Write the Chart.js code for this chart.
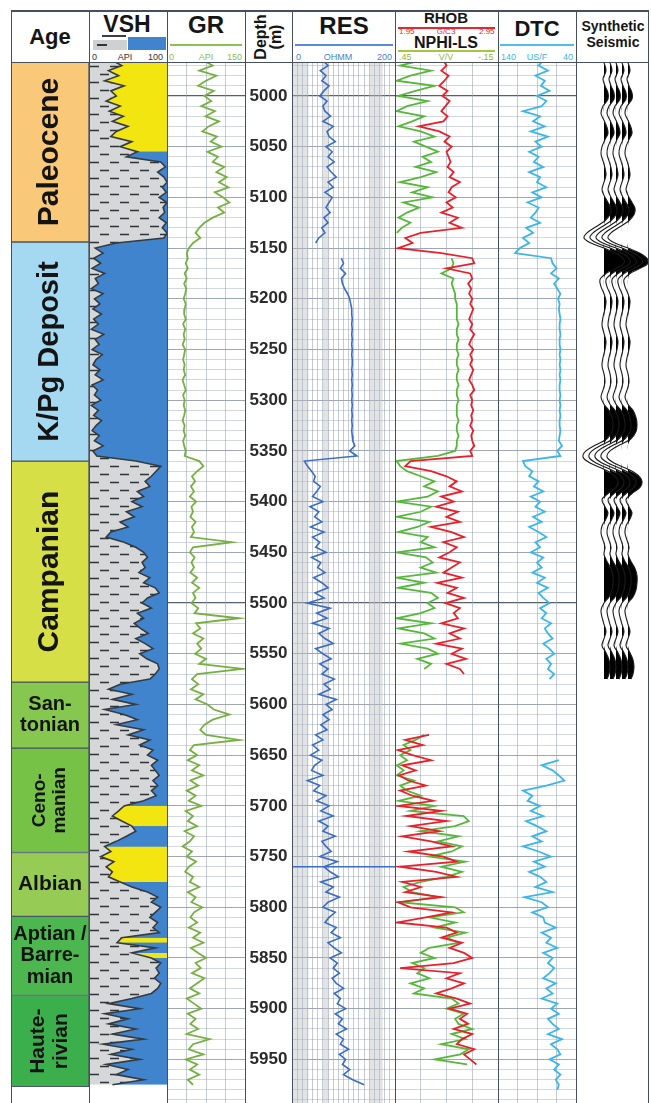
<!DOCTYPE html>
<html>
<head>
<meta charset="utf-8">
<script src="https://cdn.jsdelivr.net/npm/chart.js@4.4.0/dist/chart.umd.min.js"></script>
<style>
  body { margin: 0; width: 651px; height: 1103px; overflow: hidden; position: relative; background: #fff;
         font-family: 'Liberation Sans', Arial, sans-serif; color: #151515; }
  canvas { position: absolute; }
  .t { position: absolute; white-space: nowrap; transform: translateX(-50%); line-height: 1; }
  .b { font-weight: bold; }
  .s { position: absolute; font-size: 9px; line-height: 1; white-space: nowrap; }
  .v { position: absolute; background: #46505c; width: 1.5px; top: 10px; height: 1093px; z-index: 5; }
  .h { position: absolute; background: #46505c; height: 1.5px; left: 11px; width: 638px; z-index: 5; }
  .r { position: absolute; }
</style>
</head>
<body>

<!-- header -->
<div class="t b" style="left:50px;top:26px;font-size:22px">Age</div>

<div class="t b" style="left:127px;top:13px;font-size:23px">VSH</div>
<div class="r" style="left:102px;top:35px;width:24px;height:2px;background:#3a3f44"></div>
<div class="r" style="left:93px;top:40px;width:34px;height:10px;background:#cfd0d2"></div>
<div class="r" style="left:97px;top:44px;width:10px;height:1.5px;background:#333"></div>
<div class="r" style="left:128px;top:37px;width:38px;height:13px;background:#3f84cc"></div>
<div class="s" style="left:92px;top:53px;color:#333">0</div>
<div class="s" style="left:125px;top:53px;color:#333;transform:translateX(-50%)">API</div>
<div class="s" style="left:148px;top:53px;color:#333">100</div>

<div class="t b" style="left:206px;top:13px;font-size:24px">GR</div>
<div class="r" style="left:170px;top:44px;width:72px;height:1.5px;background:#8cc152"></div>
<div class="s" style="left:169px;top:53px;color:#8cc152">0</div>
<div class="s" style="left:206px;top:53px;color:#8cc152;transform:translateX(-50%)">API</div>
<div class="s" style="left:227px;top:53px;color:#8cc152">150</div>

<div class="r b" style="left:268px;top:37px;font-size:16px;line-height:15px;text-align:center;white-space:pre;transform:translate(-50%,-50%) rotate(-90deg)">Depth
(m)</div>

<div class="t b" style="left:344px;top:14px;font-size:24px">RES</div>
<div class="r" style="left:295px;top:44px;width:98px;height:1.5px;background:#5b8bd6"></div>
<div class="s" style="left:296px;top:53px;color:#4a7fd0">0</div>
<div class="s" style="left:338px;top:53px;color:#4a7fd0;transform:translateX(-50%)">OHMM</div>
<div class="s" style="left:377px;top:53px;color:#4a7fd0">200</div>

<div class="t b" style="left:446px;top:10px;font-size:15px">RHOB</div>
<div class="r" style="left:398px;top:27px;width:97px;height:1.5px;background:#e8262c"></div>
<div class="s" style="left:399px;top:28px;color:#e8262c;font-size:8px">1.95</div>
<div class="s" style="left:446px;top:28px;color:#e8262c;font-size:8px;transform:translateX(-50%)">G/C3</div>
<div class="s" style="left:479px;top:28px;color:#e8262c;font-size:8px">2.95</div>
<div class="t b" style="left:446px;top:35px;font-size:16px">NPHI-LS</div>
<div class="r" style="left:398px;top:50px;width:97px;height:1.5px;background:#a5c83a"></div>
<div class="s" style="left:399px;top:53px;color:#8fb83a">.45</div>
<div class="s" style="left:446px;top:53px;color:#8fb83a;transform:translateX(-50%)">V/V</div>
<div class="s" style="left:478px;top:53px;color:#8fb83a">-.15</div>

<div class="t b" style="left:537px;top:18px;font-size:22px">DTC</div>
<div class="r" style="left:500px;top:44px;width:74px;height:1.5px;background:#4fc0ea"></div>
<div class="s" style="left:501px;top:53px;color:#3fb4e6">140</div>
<div class="s" style="left:537px;top:53px;color:#3fb4e6;transform:translateX(-50%)">US/F</div>
<div class="s" style="left:563px;top:53px;color:#3fb4e6">40</div>

<div class="t b" style="left:613px;top:19px;font-size:14px">Synthetic</div>
<div class="t b" style="left:613px;top:35px;font-size:14px">Seismic</div>

<!-- tracks -->
<canvas id="ageChart" width="78" height="1041" style="left:11px;top:62px"></canvas>
<canvas id="vshChart" width="78" height="1041" style="left:89px;top:62px"></canvas>
<canvas id="grChart" width="78" height="1041" style="left:167px;top:62px"></canvas>
<canvas id="depthChart" width="47" height="1041" style="left:245px;top:62px"></canvas>
<canvas id="resChart" width="103" height="1041" style="left:292px;top:62px"></canvas>
<canvas id="denChart" width="103" height="1041" style="left:395px;top:62px"></canvas>
<canvas id="dtcChart" width="78" height="1041" style="left:498px;top:62px"></canvas>
<canvas id="seisChart" width="72" height="1041" style="left:576px;top:62px"></canvas>

<!-- frame -->
<div class="h" style="top:10px"></div>
<div class="h" style="top:61.5px"></div>
<div class="v" style="left:10.5px"></div>
<div class="v" style="left:88.5px"></div>
<div class="v" style="left:166.5px"></div>
<div class="v" style="left:244.5px"></div>
<div class="v" style="left:291.5px"></div>
<div class="v" style="left:394.5px"></div>
<div class="v" style="left:497.5px"></div>
<div class="v" style="left:575.5px"></div>
<div class="v" style="left:647.5px"></div>

<script>
// ---- data ----
const depthM = [
  4965,4970,4975,4980,4985,4990,4995,5000,5005,5010,
  5015,5020,5025,5030,5035,5040,5045,5050,5055,5060,
  5065,5070,5075,5080,5085,5090,5095,5100,5105,5110,
  5115,5120,5125,5130,5135,5140,5145,5150,5155,5160,
  5165,5170,5175,5180,5185,5190,5195,5200,5205,5210,
  5215,5220,5225,5230,5235,5240,5245,5250,5255,5260,
  5265,5270,5275,5280,5285,5290,5295,5300,5305,5310,
  5315,5320,5325,5330,5335,5340,5345,5350,5355,5360,
  5365,5370,5375,5380,5385,5390,5395,5400,5405,5410,
  5415,5420,5425,5430,5435,5440,5445,5450,5455,5460,
  5465,5470,5475,5480,5485,5490,5495,5500,5505,5510,
  5515,5520,5525,5530,5535,5540,5545,5550,5555,5560,
  5565,5570,5575,5580,5585,5590,5595,5600,5605,5610,
  5615,5620,5625,5630,5635,5640,5645,5650,5655,5660,
  5665,5670,5675,5680,5685,5690,5695,5700,5705,5710,
  5715,5720,5725,5730,5735,5740,5745,5750,5755,5760,
  5765,5770,5775,5780,5785,5790,5795,5800,5805,5810,
  5815,5820,5825,5830,5835,5840,5845,5850,5855,5860,
  5865,5870,5875,5880,5885,5890,5895,5900,5905,5910,
  5915,5920,5925,5930,5935,5940,5945,5950,5955,5960,
  5965,5970,5975,5980
];

const vsh = [
  30,42,25,38,20,45,28,35,22,40,
  26,44,30,50,35,28,55,40,62,48,
  92,98,88,96,100,94,99,90,100,95,
  97,90,99,94,100,96,35,8,18,6,
  15,4,20,8,12,3,18,7,14,5,
  16,6,12,3,19,8,13,4,17,9,
  5,14,8,18,4,11,7,15,3,12,
  6,16,9,4,13,7,18,5,10,60,
  92,86,80,72,78,62,70,55,68,48,
  58,40,50,28,22,45,60,70,75,68,
  72,64,78,70,85,90,75,68,80,62,
  70,58,66,76,60,72,82,65,74,88,
  90,85,78,40,25,55,30,60,20,45,
  62,35,70,50,78,65,82,75,88,80,
  85,90,82,88,80,86,70,45,38,30,
  42,55,60,48,35,20,28,15,32,22,
  30,25,40,55,75,88,80,92,85,78,
  88,82,90,42,36,85,55,80,92,86,
  90,84,92,88,80,55,25,65,20,50,
  25,60,30,70,18,55,28,65,22,50,
  35,70,30,null
];
// intervals where the VSH right-hand fill is yellow instead of blue
const sandZones = [[4965, 5055], [5700, 5720], [5738, 5778], [5826, 5838], [5843, 5850]];

const gr = [
  70,88,62,95,75,60,90,72,85,66,
  92,74,100,80,68,96,84,105,78,98,
  88,110,95,115,100,118,92,108,120,98,
  110,88,72,62,55,64,50,42,38,40,
  36,40,34,38,33,37,35,32,36,34,
  33,36,31,35,32,34,30,35,33,31,
  34,32,35,30,33,36,31,34,32,35,
  33,30,34,32,35,31,33,36,34,62,
  70,58,48,54,46,52,44,56,47,50,
  45,55,48,52,46,125,50,44,53,47,
  52,45,58,48,62,50,55,47,60,53,
  138,56,64,50,70,58,66,54,75,62,
  145,58,48,60,46,70,55,78,90,120,
  88,72,64,75,138,52,44,58,40,62,
  48,70,45,60,38,55,42,66,36,50,
  40,58,34,52,44,30,48,38,56,42,
  35,50,44,62,40,55,47,68,52,45,
  58,42,64,50,70,46,60,75,55,65,
  48,72,58,44,62,38,52,66,40,55,
  45,60,38,82,50,42,70,36,58,44,
  62,40,50,null
];

const res = [
  60,70,55,66,58,72,62,54,68,60,
  64,75,60,80,68,72,84,66,78,70,
  82,68,76,86,70,80,64,78,72,66,
  74,62,70,58,64,52,46,null,null,96,
  100,94,104,96,98,102,108,112,114,116,
  116,117,116,117,116,117,116,117,116,117,
  117,116,117,116,117,116,117,116,117,116,
  117,116,117,116,117,118,122,112,126,24,
  30,38,45,42,55,48,40,60,35,52,
  44,58,36,62,40,54,46,66,38,56,
  50,64,42,58,70,45,62,30,74,48,
  68,40,72,52,64,80,46,60,76,54,
  70,58,82,62,74,52,86,66,78,60,
  72,56,68,46,60,40,52,36,58,44,
  38,60,30,54,42,66,48,72,56,80,
  52,70,60,84,58,66,76,54,88,62,
  74,90,56,80,66,92,70,60,84,72,
  64,86,76,94,70,82,96,74,88,80,
  92,78,86,100,82,94,88,104,84,98,
  90,106,86,100,94,110,92,104,98,112,
  100,118,140,null
];
const resMarkerDepth = 5760;
const resShadeBands = [[0, 32], [60, 72], [150, 176]];

const rhob = [
  2.42,2.45,2.40,2.47,2.43,2.38,2.46,2.41,2.48,2.44,
  2.40,2.46,2.42,2.18,2.38,2.48,2.43,2.50,2.45,2.47,
  2.49,2.46,2.52,2.48,2.58,2.50,2.47,2.54,2.45,2.51,
  2.40,2.56,2.48,2.60,2.20,2.05,2.12,1.98,2.40,2.70,
  2.72,2.45,2.68,2.70,2.66,2.69,2.67,2.70,2.68,2.71,
  2.69,2.67,2.70,2.68,2.72,2.69,2.67,2.71,2.68,2.70,
  2.68,2.71,2.69,2.67,2.70,2.72,2.68,2.70,2.69,2.71,
  2.69,2.70,2.68,2.71,2.69,2.70,2.72,2.68,2.70,2.10,
  2.05,2.30,2.45,2.55,2.48,2.60,2.40,2.52,2.35,2.56,
  2.45,2.58,2.30,2.50,2.62,2.42,2.55,2.48,2.38,2.58,
  2.50,2.42,2.60,2.36,2.55,2.46,2.62,2.44,2.58,2.52,
  2.56,2.40,2.62,2.48,2.58,2.35,2.60,2.50,2.64,2.45,
  2.58,2.62,null,null,null,null,null,null,null,null,
  null,null,null,2.28,2.05,2.22,1.98,2.12,2.30,2.02,
  2.15,1.99,2.08,2.25,2.00,2.12,2.32,1.98,2.40,2.06,
  2.45,2.10,2.38,2.02,2.30,2.50,2.08,2.42,2.55,2.00,
  2.35,2.55,2.02,2.20,2.05,2.40,1.98,2.10,2.50,2.25,
  1.97,2.45,2.55,2.40,2.60,2.48,2.62,2.70,2.52,2.00,
  2.58,2.45,2.62,2.50,2.35,2.55,2.68,2.48,2.65,2.58,
  2.66,2.52,2.70,2.60,2.55,2.72,2.62,2.68,2.74,null,
  null,null,null,null
];

const nphi = [
  0.30,0.42,0.24,0.36,0.44,0.22,0.33,0.43,0.26,0.38,
  0.44,0.28,0.35,0.43,0.30,0.22,0.34,0.27,0.20,0.29,
  0.24,0.33,0.21,0.30,0.42,0.26,0.35,0.23,0.40,0.31,
  0.38,0.43,0.36,0.41,0.44,null,null,null,null,0.12,
  0.11,0.12,0.18,0.11,0.12,0.11,0.10,0.10,0.09,0.09,
  0.09,0.09,0.08,0.09,0.09,0.08,0.09,0.09,0.08,0.09,
  0.09,0.08,0.09,0.09,0.08,0.09,0.09,0.08,0.09,0.09,
  0.09,0.08,0.09,0.09,0.08,0.09,0.09,0.10,0.20,0.44,
  0.42,0.38,0.30,0.22,0.28,0.20,0.26,0.44,0.24,0.30,
  0.44,0.25,0.32,0.43,0.26,0.30,0.22,0.44,0.27,0.23,
  0.30,0.21,0.44,0.28,0.43,0.24,0.20,0.26,0.22,0.30,
  0.44,0.24,0.43,0.28,0.22,0.42,0.26,0.20,0.32,0.24,
  0.28,null,null,null,null,null,null,null,null,null,
  null,null,null,0.28,0.33,0.40,0.36,0.42,0.38,0.44,
  0.40,0.44,0.34,0.42,0.38,0.30,0.43,0.22,0.36,0.05,
  0.02,0.10,0.30,0.08,0.20,0.06,0.12,0.25,0.04,0.18,
  0.06,0.15,0.30,0.40,0.35,0.20,0.42,0.10,0.05,0.25,
  0.10,0.22,0.04,0.15,0.08,0.25,0.30,0.22,0.35,0.28,
  0.32,0.25,0.36,0.28,0.34,0.12,0.08,0.15,0.05,0.10,
  0.08,0.00,0.12,0.04,0.18,0.02,0.07,0.22,0.03,null,
  null,null,null,null
];

const dtc = [
  82,88,76,92,80,85,74,90,78,84,
  108,86,95,80,98,76,92,84,100,88,
  94,82,100,86,90,78,96,84,102,88,
  92,98,86,104,95,108,100,112,118,72,
  70,65,72,62,68,64,60,63,61,62,
  61,60,61,61,60,61,61,60,61,60,
  61,60,61,60,61,61,60,61,60,61,
  60,61,61,60,61,62,58,64,60,108,
  105,96,100,88,94,82,98,86,92,80,
  95,84,100,88,78,92,86,98,82,90,
  84,96,80,90,76,88,82,74,86,78,
  84,72,80,76,70,82,74,68,78,72,
  76,68,74,null,null,null,null,null,null,null,
  null,null,null,null,null,null,null,null,62,84,
  70,62,55,78,108,96,102,86,98,82,
  104,90,78,96,84,108,88,72,94,80,
  100,86,78,92,70,106,84,76,96,82,
  80,66,84,72,78,64,82,70,76,68,
  74,82,66,78,70,84,64,72,62,76,
  70,62,76,58,72,64,60,74,62,68,
  60,66,62,64
];

// synthetic seismic wavelet (amplitude in track units, + = to the right)
const seisDepth = [
  4967,4975,4983,4990,4997,5003,5010,5017,5024,5031,5037,5043,5050,5057,5064,5071,5078,5085,5092,5098,
  5105,5111,5117,5123,5129,5135,5140,5145,5150,5155,5160,5165,5170,5175,5181,5188,5195,5202,5210,5218,
  5226,5234,5242,5250,5258,5266,5274,5282,5290,5297,5304,5310,5317,5324,5331,5338,5344,5350,5356,5362,
  5368,5374,5380,5386,5392,5398,5405,5411,5417,5424,5431,5438,5445,5452,5459,5466,5473,5480,5487,5494,
  5500,5507,5514,5521,5528,5535,5542,5549,5556,5563,5570,5575
];
const seisAmp = [
  0,2,-1,1,4,4,-1,-3,0,3,4,1,-2,-3,-1,1,2,0,-2,0,
  4,7,6,1,-8,-17,-20,-13,0,12,19,20,12,2,-4,-3,0,2,1,-1,
  -2,0,2,1,-1,-2,0,1,-1,-3,0,5,8,9,8,3,-8,-18,-21,-14,
  0,10,14,12,4,-2,1,4,2,-2,-3,-1,1,0,3,7,9,9,8,5,
  0,-3,-2,0,2,0,-2,2,5,6,5,3
];
const traceOffset = [28, 34, 40, 46, 52];

const ageNames = ['Paleocene', 'K/Pg Deposit', 'Campanian', 'San-\ntonian', 'Ceno-\nmanian',
                  'Albian', 'Aptian /\nBarre-\nmian', 'Haute-\nrivian'];
const ageTop  = [4966.5, 5144, 5360, 5578, 5643, 5746, 5809, 5887];
const ageBase = [5144, 5360, 5578, 5643, 5746, 5809, 5887, 5977];
const ageColors = ['#f9c878', '#a4d9f1', '#d6df45', '#86c750', '#76c247', '#96cc56', '#4cb74e', '#3caf4d'];
const ageVertical = [true, true, true, false, true, false, false, true];
const ageFontSize = [30, 29, 30, 20, 19, 21, 20, 21];

const depthLabels = [5000,5050,5100,5150,5200,5250,5300,5350,5400,5450,
                     5500,5550,5600,5650,5700,5750,5800,5850,5900,5950];

// ---- drawing ----
const DEPTH_TOP = 4966.5, DEPTH_BASE = 5993;
const FONT = "'Liberation Sans', Arial, sans-serif";

const gridDepths = [];
for (let d = 4970; d <= 5990; d += 10) gridDepths.push(d);

function gridColor(v) {
  if (v % 500 === 0) return '#56606b';
  if (v % 50 === 0) return 'rgba(118,130,150,0.7)';
  return 'rgba(165,176,194,0.5)';
}

function depthAxis(showGrid) {
  return {
    type: 'linear', reverse: true, min: DEPTH_TOP, max: DEPTH_BASE,
    afterBuildTicks: s => { s.ticks = gridDepths.map(v => ({ value: v })); },
    ticks: { display: false },
    border: { display: false },
    grid: { display: showGrid, drawTicks: false, color: c => gridColor(c.tick.value), lineWidth: c => c.tick.value % 500 === 0 ? 1.2 : 1 }
  };
}

function valueAxis(min, max, reverse, step, showGrid) {
  return {
    type: 'linear', position: 'top', min: min, max: max, reverse: reverse,
    ticks: { display: false, stepSize: step },
    border: { display: false },
    grid: { display: showGrid, drawTicks: false, color: 'rgba(150,160,178,0.55)' }
  };
}

function baseOptions(scales, plugins) {
  return {
    type: 'line',
    options: {
      indexAxis: 'y',
      responsive: false, maintainAspectRatio: false, animation: false,
      layout: { padding: 0, autoPadding: false },
      elements: { point: { radius: 0 }, line: { tension: 0, borderWidth: 1.3 } },
      plugins: { legend: { display: false }, tooltip: { enabled: false } },
      scales: scales
    },
    plugins: plugins || []
  };
}

function pts(vals) {
  return depthM.map((d, i) => ({ x: vals[i], y: d }));
}

function makeTrack(id, datasets, scales, plugins) {
  const cfg = baseOptions(scales, plugins);
  cfg.data = { datasets: datasets };
  return new Chart(document.getElementById(id), cfg);
}

function shalePattern() {
  const c = document.createElement('canvas');
  c.width = 20; c.height = 16;
  const g = c.getContext('2d');
  g.fillStyle = '#d6d7d9';
  g.fillRect(0, 0, 20, 16);
  g.strokeStyle = '#2e3337';
  g.lineWidth = 1.4;
  g.beginPath();
  g.moveTo(1, 4.5); g.lineTo(10, 4.5);
  g.moveTo(11, 12.5); g.lineTo(20, 12.5);
  g.stroke();
  return g.createPattern(c, 'repeat');
}

// Age column: floating bars over the depth scale
const ageLabels = {
  id: 'ageLabels',
  afterDatasetsDraw(chart) {
    const ctx = chart.ctx;
    chart.data.datasets.forEach((ds, i) => {
      const el = chart.getDatasetMeta(i).data[0];
      const cx = el.x, cy = (el.y + el.base) / 2;
      const lines = ageNames[i].split('\n');
      const size = ageFontSize[i];
      const lh = size * 1.08;
      ctx.save();
      ctx.translate(cx, cy);
      if (ageVertical[i]) ctx.rotate(-Math.PI / 2);
      ctx.font = 'bold ' + size + 'px ' + FONT;
      ctx.fillStyle = '#141414';
      ctx.textAlign = 'center';
      ctx.textBaseline = 'middle';
      lines.forEach((t, k) => ctx.fillText(t, 0, (k - (lines.length - 1) / 2) * lh));
      ctx.restore();
    });
  }
};

new Chart(document.getElementById('ageChart'), {
  type: 'bar',
  data: {
    labels: ['Age'],
    datasets: ageNames.map((n, i) => ({
      data: [[ageTop[i], ageBase[i]]],
      backgroundColor: ageColors[i],
      borderColor: '#4a5560', borderWidth: 1, borderSkipped: false,
      grouped: false, barPercentage: 1, categoryPercentage: 1
    }))
  },
  options: {
    responsive: false, animation: false,
    layout: { padding: 0, autoPadding: false },
    plugins: { legend: { display: false }, tooltip: { enabled: false } },
    scales: {
      x: { display: false, offset: true },
      y: { display: false, reverse: true, min: DEPTH_TOP, max: DEPTH_BASE }
    }
  },
  plugins: [ageLabels]
});

// VSH
const vshSand = vsh.map((v, i) => sandZones.some(z => depthM[i] >= z[0] && depthM[i] <= z[1]) ? v : null);
makeTrack('vshChart', [
  { data: pts(vsh), borderColor: '#363b40', borderWidth: 1.6, fill: { value: 0 }, backgroundColor: shalePattern() },
  { data: pts(vshSand), borderWidth: 0, fill: { value: 100 }, backgroundColor: '#f3e50f' },
  { data: pts(vsh), borderWidth: 0, fill: { value: 100 }, backgroundColor: '#3f84cc' }
], { y: depthAxis(false), x: valueAxis(0, 100, false, 25, false) });

// GR
makeTrack('grChart', [
  { data: pts(gr), borderColor: '#76b041', borderWidth: 1.8 }
], { y: depthAxis(true), x: valueAxis(0, 150, false, 37.5, true) });

// Depth labels, placed with the depth scale
const depthText = {
  id: 'depthText',
  afterDraw(chart) {
    const { ctx, chartArea, scales } = chart;
    ctx.save();
    ctx.font = 'bold 17px ' + FONT;
    ctx.fillStyle = '#2a2a2a';
    ctx.textAlign = 'center';
    ctx.textBaseline = 'middle';
    const cx = (chartArea.left + chartArea.right) / 2;
    depthLabels.forEach(d => ctx.fillText(String(d), cx, scales.y.getPixelForValue(d)));
    ctx.restore();
  }
};
makeTrack('depthChart', [], { y: depthAxis(false), x: valueAxis(0, 1, false, 1, false) }, [depthText]);

// RES
const resShade = {
  id: 'resShade',
  beforeDatasetsDraw(chart) {
    const { ctx, chartArea, scales } = chart;
    ctx.save();
    ctx.fillStyle = 'rgba(185,188,193,0.42)';
    resShadeBands.forEach(b => {
      const x0 = scales.x.getPixelForValue(b[0]), x1 = scales.x.getPixelForValue(b[1]);
      ctx.fillRect(x0, chartArea.top, x1 - x0, chartArea.bottom - chartArea.top);
    });
    ctx.restore();
  }
};
makeTrack('resChart', [
  { data: pts(res), borderColor: '#3a6cc4', borderWidth: 1.6 },
  { data: [{ x: 0, y: resMarkerDepth }, { x: 200, y: resMarkerDepth }], borderColor: '#3a6cc4', borderWidth: 1.5 }
], { y: depthAxis(true), x: valueAxis(0, 200, false, 10, true) }, [resShade]);

// RHOB / NPHI
makeTrack('denChart', [
  { data: pts(rhob), borderColor: '#e8202a', borderWidth: 1.8, xAxisID: 'x' },
  { data: pts(nphi), borderColor: '#55b83a', borderWidth: 1.8, xAxisID: 'xn' }
], {
  y: depthAxis(true),
  x: valueAxis(1.95, 2.95, false, 0.25, true),
  xn: Object.assign(valueAxis(-0.15, 0.45, true, 0.15, false), { display: false })
});

// DTC
makeTrack('dtcChart', [
  { data: pts(dtc), borderColor: '#3cb6e8', borderWidth: 1.8 }
], { y: depthAxis(true), x: valueAxis(40, 140, true, 25, true) });

// Synthetic seismic: wiggle traces with black positive lobes
const seisSets = [];
traceOffset.forEach(b => {
  seisSets.push({ data: seisDepth.map((d, i) => ({ x: b + seisAmp[i], y: d })),
                  borderColor: '#1a1a1a', borderWidth: 1.1, tension: 0.35 });
  seisSets.push({ data: seisDepth.map((d, i) => ({ x: b + Math.max(seisAmp[i], 0), y: d })),
                  borderWidth: 0, tension: 0.35, fill: { value: b }, backgroundColor: '#000' });
});
makeTrack('seisChart', seisSets, { y: depthAxis(false), x: valueAxis(0, 72, false, 10, false) });
</script>
</body>
</html>
